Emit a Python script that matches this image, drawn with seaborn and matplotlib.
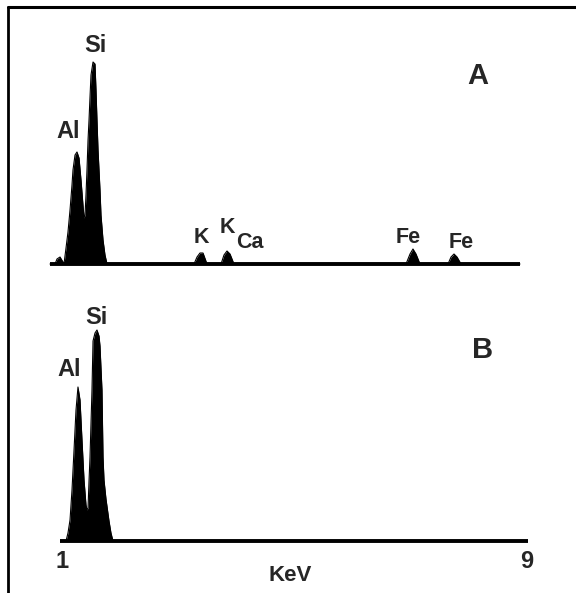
import numpy as np
import pandas as pd
import matplotlib
matplotlib.use("Agg")
import matplotlib.pyplot as plt
import seaborn as sns
from matplotlib.lines import Line2D

energy_a = [0.793, 0.880, 0.914, 0.966, 1.017, 1.034, 1.069, 1.103, 1.138, 1.172,
            1.189, 1.224, 1.258, 1.293, 1.327, 1.361, 1.379, 1.396, 1.413, 1.430,
            1.448, 1.465, 1.482, 1.499, 1.534, 1.568, 1.585, 1.602, 1.620, 1.654,
            1.671, 1.706, 1.740, 1.775,
            3.272, 3.324, 3.375, 3.427, 3.496,
            3.737, 3.788, 3.840, 3.892, 3.960,
            6.921, 6.990, 7.041, 7.093, 7.162,
            7.644, 7.696, 7.747, 7.799, 7.868,
            8.883]
counts_a = [0, 0, 5, 7, 2, 0, 16, 32, 54, 79,
            94, 109, 112, 106, 84, 59, 46, 49, 69, 94,
            124, 144, 167, 189, 202, 200, 174, 144, 114, 74,
            49, 24, 9, 0,
            0, 7, 11, 11, 0,
            0, 9, 13, 10, 0,
            0, 10, 15, 10, 0,
            0, 7, 10, 7, 0,
            0]

# Spectrum B
energy_b = [1.069, 1.103, 1.138, 1.172, 1.207, 1.241, 1.275, 1.310, 1.344, 1.379,
            1.413, 1.430, 1.448, 1.465, 1.482, 1.516, 1.534, 1.568, 1.602, 1.637,
            1.654, 1.688, 1.706, 1.723, 1.757, 1.809, 1.843, 1.878]
counts_b = [0, 8, 21, 51, 91, 131, 154, 141, 101, 61,
            36, 31, 33, 60, 84, 151, 200, 208, 211, 205,
            195, 151, 84, 61, 42, 20, 8, 0]

baseline_a = [0.793, 8.883]
baseline_b = [0.966, 9.021]

# peak labels: text, energy, counts, font size
labels_a = [("Si", 1.568, 219, 17), ("Al", 1.103, 132, 17),
            ("K", 3.392, 26, 15.5), ("K", 3.840, 36, 15.5), ("Ca", 4.235, 21, 15.5),
            ("Fe", 6.955, 26, 15.5), ("Fe", 7.868, 21, 15.5)]
labels_b = [("Si", 1.585, 223, 17), ("Al", 1.120, 171, 17)]

tick_vals = [1, 9]
tick_text = ["1", "9"]

sns.set_theme(style="white")
plt.rcParams["font.family"] = ["Liberation Sans", "DejaVu Sans"]

W, H = 576, 593
fig = plt.figure(figsize=(W / 100, H / 100), dpi=100)
fig.patch.set_facecolor("white")

def px_axes(left, top, right, bottom):
    return fig.add_axes([left / W, 1 - bottom / H, (right - left) / W, (bottom - top) / H])

xlim = (0.6213, 9.2272)
ax_a = px_axes(40, 30, 540, 272)
ax_b = px_axes(40, 300, 540, 549)

df_a = pd.DataFrame({"keV": energy_a, "counts": counts_a})
df_b = pd.DataFrame({"keV": energy_b, "counts": counts_b})

for ax, df, base, ylim in [(ax_a, df_a, baseline_a, (-8, 234)),
                          (ax_b, df_b, baseline_b, (-8, 241))]:
    sns.lineplot(data=df, x="keV", y="counts", ax=ax, color="black", lw=0.8)
    ax.fill_between(df["keV"], 0, df["counts"], color="black", lw=0)
    ax.plot(base, [0, 0], color="black", lw=2.8, solid_capstyle="butt")
    ax.set_xlim(*xlim)
    ax.set_ylim(*ylim)
    ax.set_yticks([])
    ax.set_ylabel("")
    for s in ax.spines.values():
        s.set_visible(False)
    ax.set_facecolor("none")

for txt, x, y, fs in labels_a:
    ax_a.text(x, y, txt, ha="center", va="center", fontsize=fs, fontweight="bold")
for txt, x, y, fs in labels_b:
    ax_b.text(x, y, txt, ha="center", va="center", fontsize=fs, fontweight="bold")

ax_a.text(8.160, 188, "A", ha="center", va="center", fontsize=21, fontweight="bold")
ax_b.text(8.246, 191, "B", ha="center", va="center", fontsize=21, fontweight="bold")

ax_a.set_xticks([])
ax_a.set_xlabel("")
ax_b.set_xticks(tick_vals)
ax_b.set_xticklabels(tick_text, fontsize=17, fontweight="bold")
ax_b.tick_params(axis="x", length=0, pad=1)
ax_b.set_xlabel("KeV", fontsize=16, fontweight="bold", labelpad=-6)

# frame: top and left edges
fig.add_artist(Line2D([8 / W, 1], [1 - 7 / H, 1 - 7 / H], color="black", lw=2.2,
                      transform=fig.transFigure))
fig.add_artist(Line2D([8 / W, 8 / W], [1 - 7 / H, 0], color="black", lw=2.0,
                      transform=fig.transFigure))

fig.savefig("out.png", dpi=100, facecolor="white")
